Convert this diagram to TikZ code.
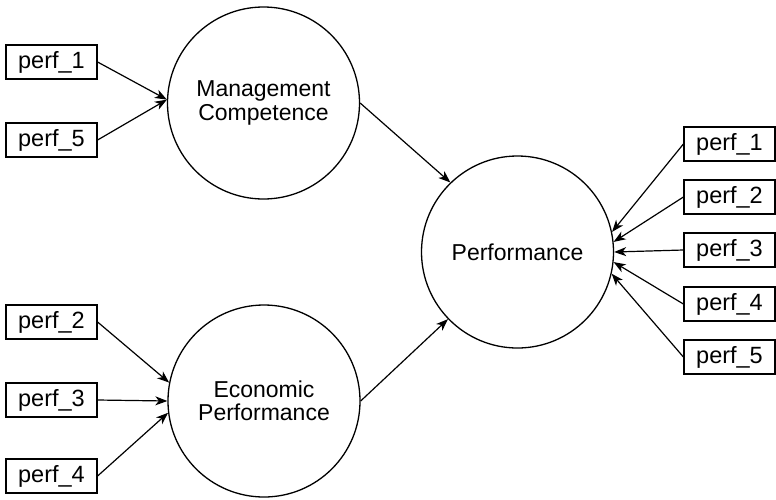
\documentclass[tikz,border=0pt]{standalone}
\usepackage{fontspec}
\setmainfont{Liberation Sans}
\usetikzlibrary{arrows.meta}
\begin{document}
\begin{tikzpicture}[x=1pt,y=-1pt,
  ind/.style={draw,line width=1.2pt,minimum width=91pt,minimum height=34pt,inner sep=0pt,font=\fontsize{23.5}{25}\selectfont},
  lat/.style={draw,circle,line width=1.3pt,minimum size=192pt,inner sep=0pt,align=center,font=\fontsize{23}{23.5}\selectfont},
  arr/.style={line width=1.2pt,-{Stealth[length=12pt,width=9pt,inset=3.5pt]}}]
\useasboundingbox (0,0) rectangle (776,499);
\node[lat] (mc) at (263.5,103) {Management\\Competence};
\node[lat] (ep) at (264,401) {Economic\\Performance};
\node[lat] (pf) at (517.5,252) {Performance};
\node[ind] (l1) at (51.5,62) {perf\_1};
\node[ind] (l5) at (51.5,140) {perf\_5};
\node[ind] (l2) at (51.5,322) {perf\_2};
\node[ind] (l3) at (51.5,400) {perf\_3};
\node[ind] (l4) at (51.5,476) {perf\_4};
\node[ind] (r1) at (729.5,144) {perf\_1};
\node[ind] (r2) at (729.5,197) {perf\_2};
\node[ind] (r3) at (729.5,250) {perf\_3};
\node[ind] (r4) at (729.5,304) {perf\_4};
\node[ind] (r5) at (729.5,357) {perf\_5};
\draw[arr] (l1.east) -- (mc.178);
\draw[arr] (l5.east) -- (mc.178);
\draw[arr] (l2.east) -- (ep.169);
\draw[arr] (l3.east) -- (ep.180);
\draw[arr] (l4.east) -- (ep.187);
\draw[arr] (mc.east) -- (pf.134);
\draw[arr] (ep.east) -- (pf.224);
\draw[arr] (r1.west) -- (pf.12);
\draw[arr] (r2.west) -- (pf.6);
\draw[arr] (r3.west) -- (pf.0);
\draw[arr] (r4.west) -- (pf.-6.5);
\draw[arr] (r5.west) -- (pf.-13);
\end{tikzpicture}
\end{document}
